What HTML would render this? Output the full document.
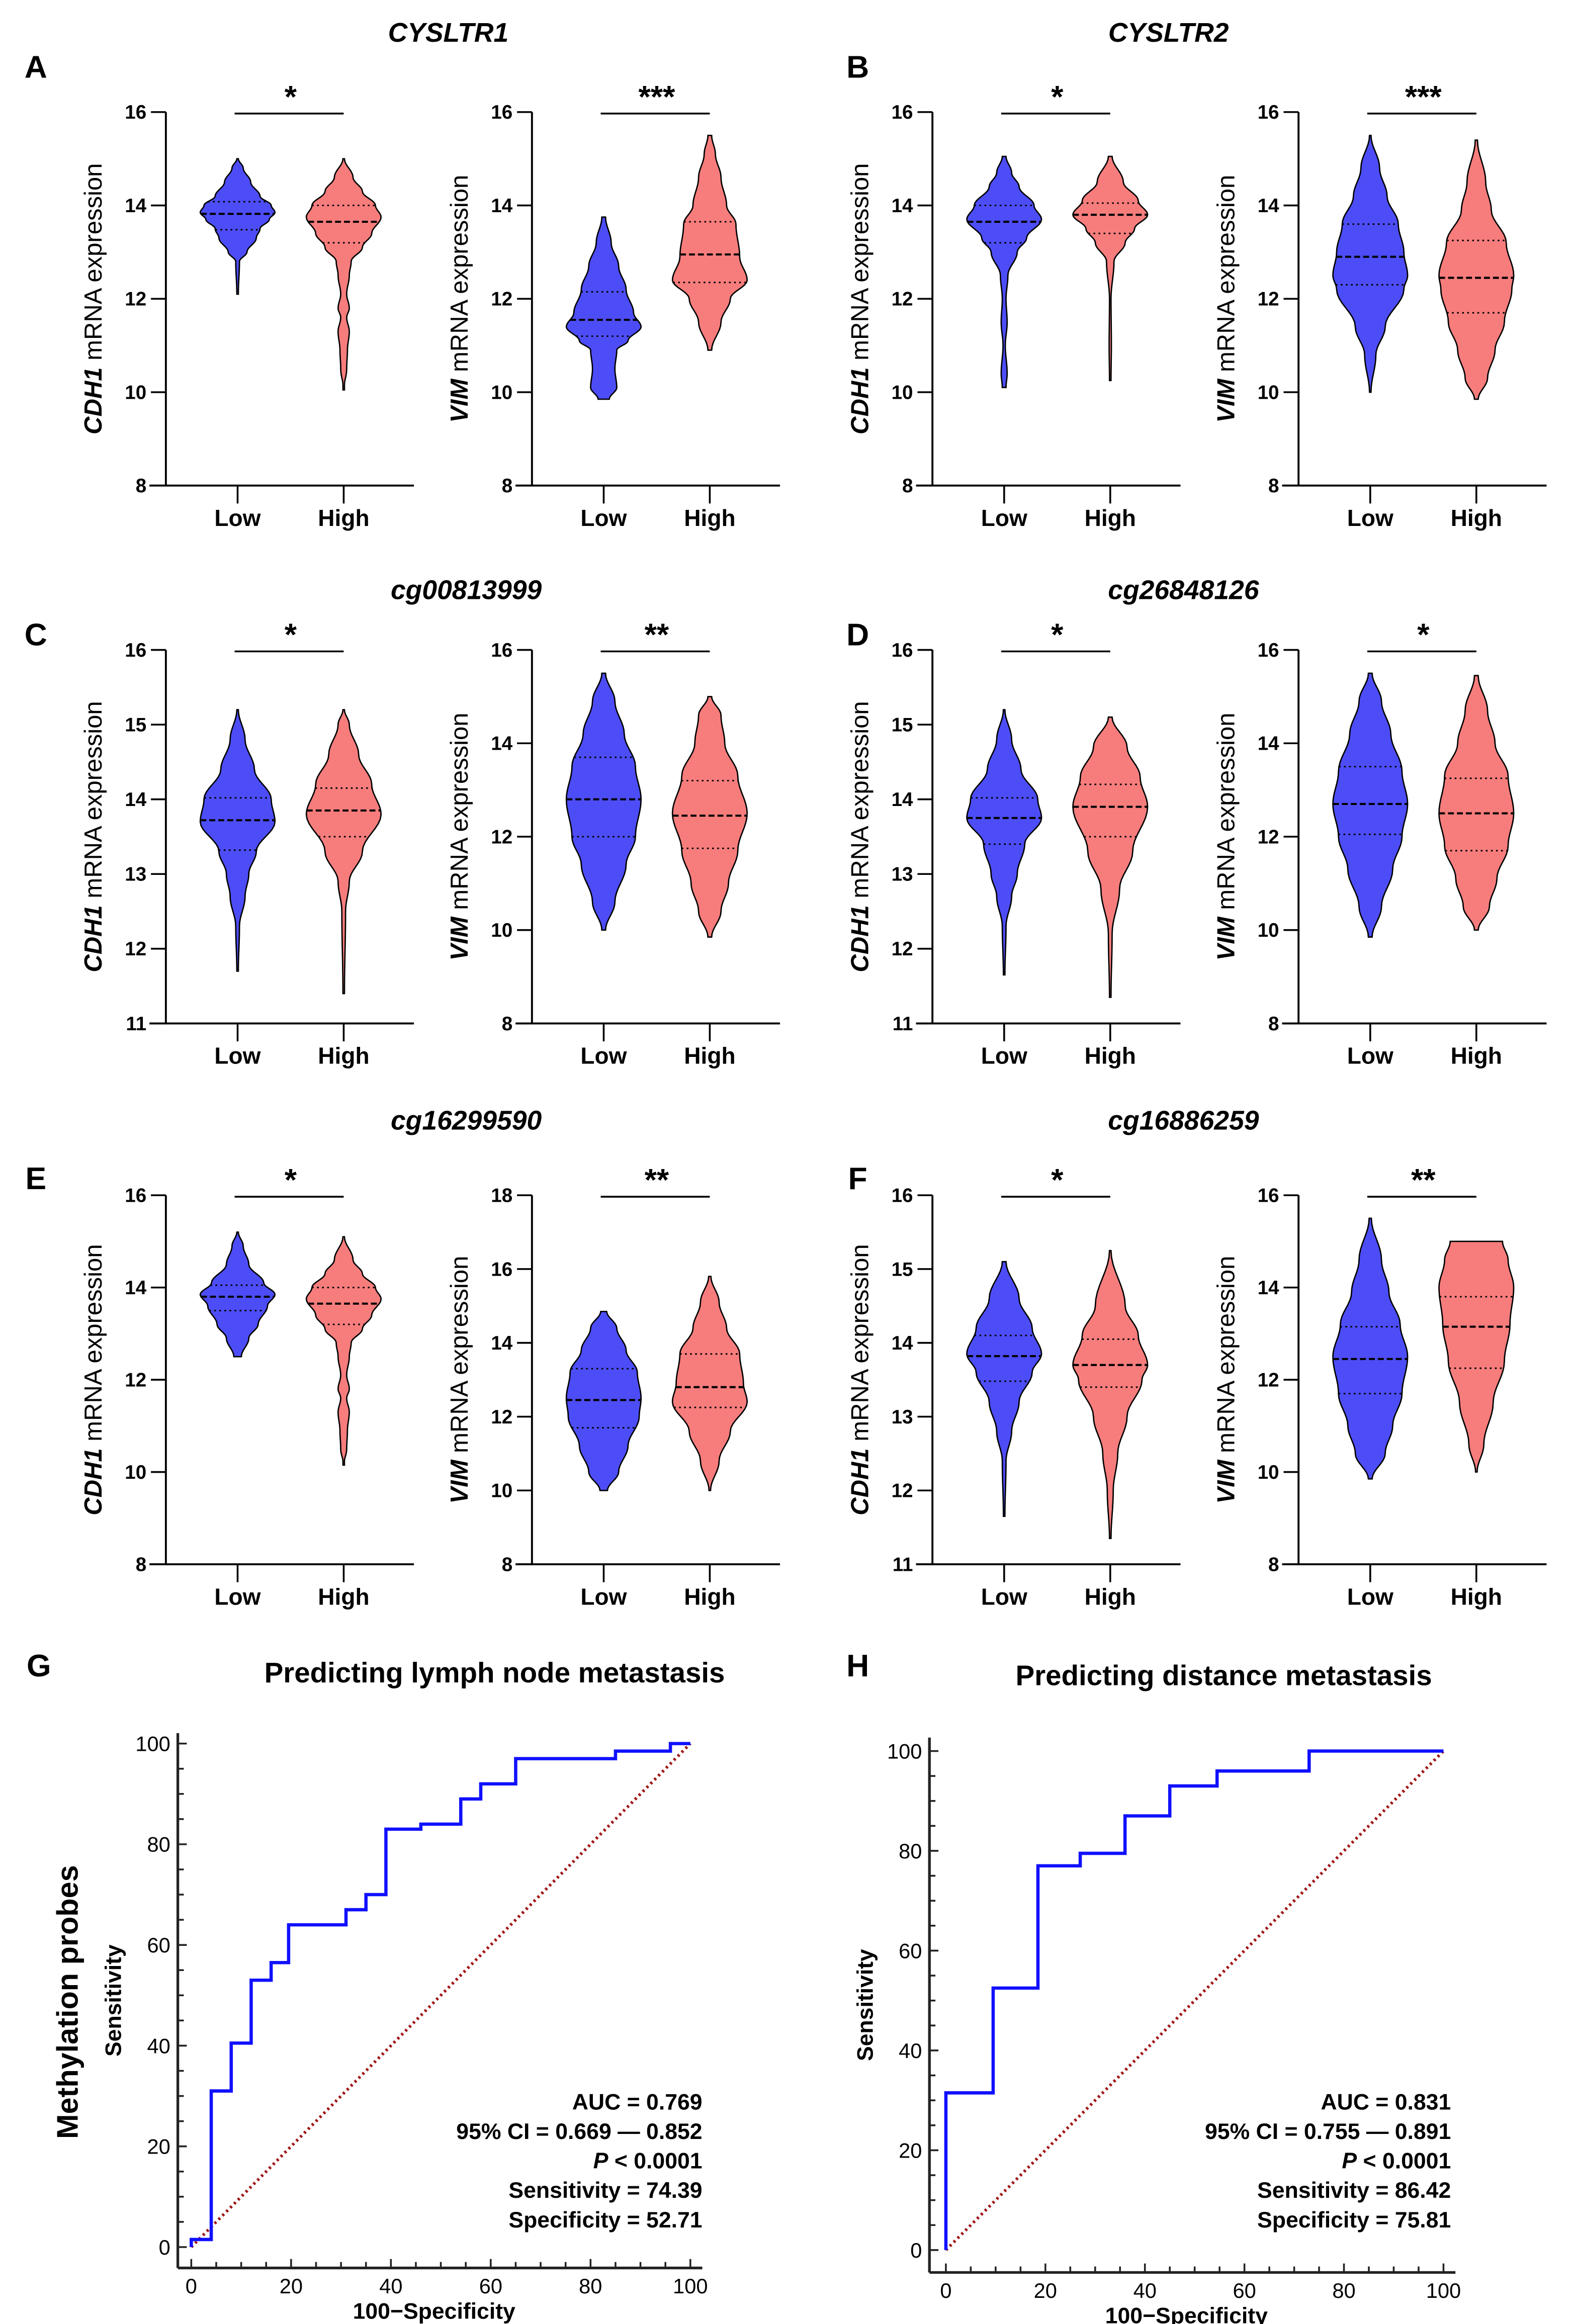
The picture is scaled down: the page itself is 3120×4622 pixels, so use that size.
<!DOCTYPE html>
<html><head><meta charset="utf-8">
<style>
html,body{margin:0;padding:0;background:#fff;}
svg{display:block;}
text{font-family:"Liberation Sans",Arial,sans-serif;fill:#000;}
</style></head>
<body>
<svg id="fig" width="3120" height="4622" viewBox="0 0 1050 1555.5" xmlns="http://www.w3.org/2000/svg">
<g id="root"></g>
</svg>
<script>
// ---------- Violin data (value, relative density) ----------
const groups = ["Low","High"];
const a1Low  = [[12.1,0.02],[12.8,0.05],[13.0,0.25],[13.3,0.5],[13.5,0.6],[13.7,0.85],[13.85,1.0],[14.0,0.9],[14.2,0.6],[14.5,0.35],[14.8,0.15],[15.0,0.02]];
const a1High = [[10.05,0],[10.5,0.08],[10.9,0.1],[11.3,0.15],[11.6,0.08],[11.8,0.15],[12.1,0.08],[12.5,0.15],[12.8,0.2],[13.1,0.5],[13.4,0.75],[13.75,1.0],[14.0,0.85],[14.3,0.5],[14.6,0.25],[15.0,0.02]];
const a2Low  = [[9.85,0.15],[10.1,0.35],[10.5,0.3],[10.9,0.35],[11.1,0.65],[11.4,1.0],[11.7,0.8],[12.2,0.6],[12.7,0.4],[13.2,0.2],[13.75,0.05]];
const a2High = [[10.9,0.05],[11.5,0.3],[12.0,0.55],[12.4,1.0],[12.9,0.8],[13.6,0.7],[14.0,0.45],[14.6,0.3],[15.1,0.15],[15.5,0.05]];
const b1Low  = [[10.1,0.05],[10.4,0.08],[11.0,0.03],[11.5,0.08],[12.0,0.05],[12.5,0.1],[13.0,0.35],[13.3,0.6],[13.7,1.0],[14.0,0.8],[14.4,0.4],[14.7,0.2],[15.05,0.05]];
const b1High = [[10.25,0.02],[11.0,0.03],[12.0,0.02],[12.8,0.1],[13.2,0.4],[13.5,0.65],[13.8,1.0],[14.1,0.75],[14.5,0.35],[15.05,0.05]];
const b2Low  = [[10.0,0.02],[10.8,0.15],[11.4,0.4],[12.2,0.9],[12.5,1.0],[13.0,0.9],[13.6,0.75],[14.2,0.45],[14.8,0.25],[15.5,0.02]];
const b2High = [[9.85,0.05],[10.3,0.3],[10.9,0.5],[11.5,0.75],[12.2,0.95],[12.5,1.0],[13.2,0.8],[13.9,0.4],[14.5,0.25],[15.4,0.03]];
const c1Low  = [[11.7,0.02],[12.3,0.05],[12.7,0.2],[13.0,0.3],[13.3,0.5],[13.7,1.0],[14.0,0.9],[14.4,0.45],[14.8,0.2],[15.2,0.02]];
const c1High = [[11.4,0.02],[12.5,0.05],[12.9,0.15],[13.3,0.5],[13.8,1.0],[14.2,0.75],[14.6,0.4],[15.0,0.15],[15.2,0.02]];
const c2Low  = [[10.0,0.05],[10.6,0.3],[11.4,0.6],[12.0,0.85],[12.8,1.0],[13.5,0.85],[14.2,0.55],[14.9,0.3],[15.5,0.05]];
const c2High = [[9.85,0.05],[10.4,0.3],[11.0,0.5],[11.7,0.75],[12.5,1.0],[13.3,0.75],[14.0,0.4],[14.6,0.3],[15.0,0.05]];
const d1Low  = [[11.65,0.02],[12.3,0.05],[12.7,0.2],[13.0,0.35],[13.4,0.55],[13.75,1.0],[14.0,0.9],[14.4,0.45],[14.8,0.2],[15.2,0.02]];
const d1High = [[11.35,0.02],[12.2,0.05],[12.8,0.25],[13.3,0.6],[13.9,1.0],[14.3,0.8],[14.7,0.45],[15.1,0.05]];
const d2Low  = [[9.85,0.05],[10.5,0.3],[11.3,0.6],[12.0,0.85],[12.7,1.0],[13.4,0.85],[14.2,0.55],[14.9,0.3],[15.5,0.05]];
const d2High = [[10.0,0.05],[10.5,0.35],[11.1,0.55],[11.8,0.85],[12.5,1.0],[13.3,0.85],[14.0,0.5],[14.7,0.3],[15.45,0.05]];
const e1Low  = [[12.5,0.1],[12.9,0.3],[13.2,0.55],[13.6,0.8],[13.85,1.0],[14.1,0.7],[14.5,0.3],[14.9,0.15],[15.2,0.02]];
const e1High = [[10.15,0],[10.5,0.08],[10.9,0.1],[11.3,0.15],[11.6,0.08],[11.8,0.15],[12.1,0.08],[12.5,0.15],[12.8,0.2],[13.1,0.5],[13.4,0.75],[13.75,1.0],[14.0,0.85],[14.3,0.5],[14.6,0.25],[15.1,0.02]];
const e2Low  = [[10.0,0.1],[10.5,0.4],[11.2,0.65],[12.0,0.95],[12.5,1.0],[13.2,0.9],[13.8,0.6],[14.4,0.35],[14.85,0.08]];
const e2High = [[10.0,0.02],[10.8,0.25],[11.6,0.55],[12.4,1.0],[12.9,0.9],[13.7,0.8],[14.4,0.45],[15.1,0.25],[15.8,0.03]];
const f1Low  = [[11.65,0.02],[12.4,0.05],[12.8,0.2],[13.2,0.4],[13.6,0.75],[13.85,1.0],[14.2,0.75],[14.6,0.4],[15.1,0.05]];
const f1High = [[11.35,0.02],[12.0,0.08],[12.5,0.2],[13.0,0.45],[13.5,0.85],[13.7,1.0],[14.1,0.75],[14.5,0.4],[15.25,0.02]];
const f2Low  = [[9.85,0.05],[10.4,0.4],[11.0,0.6],[11.7,0.85],[12.5,1.0],[13.2,0.8],[13.9,0.5],[14.6,0.3],[15.5,0.03]];
const f2High = [[10.0,0.02],[10.6,0.2],[11.5,0.45],[12.4,0.75],[13.2,0.9],[14.0,1.0],[14.6,0.85],[15.0,0.7]];
// quartiles [q1, median, q3] per violin
const quartiles = {
 a1Low:[13.48,13.82,14.08], a1High:[13.2,13.65,14.0],
 a2Low:[11.2,11.55,12.15],  a2High:[12.35,12.95,13.65],
 b1Low:[13.2,13.65,14.0],   b1High:[13.4,13.8,14.05],
 b2Low:[12.3,12.9,13.6],    b2High:[11.7,12.45,13.25],
 c1Low:[13.32,13.72,14.02], c1High:[13.5,13.85,14.15],
 c2Low:[12.0,12.8,13.7],    c2High:[11.75,12.45,13.2],
 d1Low:[13.4,13.75,14.02],  d1High:[13.5,13.9,14.2],
 d2Low:[12.05,12.7,13.5],   d2High:[11.7,12.5,13.25],
 e1Low:[13.5,13.8,14.05],   e1High:[13.2,13.65,14.0],
 e2Low:[11.7,12.45,13.3],   e2High:[12.25,12.8,13.7],
 f1Low:[13.48,13.82,14.1],  f1High:[13.4,13.7,14.05],
 f2Low:[11.7,12.45,13.15],  f2High:[12.25,13.15,13.8]
};
const stars = {a1:"*",a2:"***",b1:"*",b2:"***",c1:"*",c2:"**",d1:"*",d2:"*",e1:"*",e2:"**",f1:"*",f2:"**"};
const yRanges = {a1:[8,16,2],a2:[8,16,2],b1:[8,16,2],b2:[8,16,2],c1:[11,16,1],c2:[8,16,2],d1:[11,16,1],d2:[8,16,2],e1:[8,16,2],e2:[8,18,2],f1:[11,16,1],f2:[8,16,2]};
const genes = {a1:"CDH1",a2:"VIM",b1:"CDH1",b2:"VIM",c1:"CDH1",c2:"VIM",d1:"CDH1",d2:"VIM",e1:"CDH1",e2:"VIM",f1:"CDH1",f2:"VIM"};
const profiles = {a1Low,a1High,a2Low,a2High,b1Low,b1High,b2Low,b2High,c1Low,c1High,c2Low,c2High,d1Low,d1High,d2Low,d2High,e1Low,e1High,e2Low,e2High,f1Low,f1High,f2Low,f2High};

// ---------- ROC data ----------
const rocGx = [0,0,4,4,8,8,12,12,16,16,19.5,19.5,31,31,35,35,39,39,46,46,54,54,58,58,65,65,85,85,96,96,100];
const rocGy = [0,1.5,1.5,31,31,40.5,40.5,53,53,56.5,56.5,64,64,67,67,70,70,83,83,84,84,89,89,92,92,97,97,98.5,98.5,100,100];
const rocHx = [0,0,9.5,9.5,18.5,18.5,27,27,36,36,45,45,54.5,54.5,73,73,100];
const rocHy = [0,31.5,31.5,52.5,52.5,77,77,79.5,79.5,87,87,93,93,96,96,100,100];
const rocTicks = [0,20,40,60,80,100];
const statsG = [["AUC","= 0.769"],["95% CI","= 0.669 — 0.852"],["P","< 0.0001"],["Sensitivity ","= 74.39"],["Specificity ","= 52.71"]];
const statsH = [["AUC","= 0.831"],["95% CI","= 0.755 — 0.891"],["P","< 0.0001"],["Sensitivity ","= 86.42"],["Specificity ","= 75.81"]];

// ---------- helpers ----------
const NS="http://www.w3.org/2000/svg";
const root=document.getElementById('root');
function mk(tag,attrs,parent,txt){const e=document.createElementNS(NS,tag);for(const k in attrs)e.setAttribute(k,attrs[k]);if(txt!==undefined)e.textContent=txt;(parent||root).appendChild(e);return e;}
function txt(x,y,s,size,opts,parent){opts=opts||{};const a={x:x,y:y,'font-size':size,'text-anchor':opts.anchor||'middle'};if(opts.bold)a['font-weight']='bold';if(opts.italic)a['font-style']='italic';if(opts.transform)a.transform=opts.transform;return mk('text',a,parent,s);}

// panel titles and letters
const titles=[["CYSLTR1",300,28],["CYSLTR2",782,28],["cg00813999",312,401],["cg26848126",792,401],["cg16299590",312,756],["cg16886259",792,756]];
titles.forEach(t=>{const e=txt(t[1],t[2],t[0],18,{bold:true,italic:true});

});
const letters=[["A",24,52],["B",574,52],["C",24,432],["D",574,432],["E",24,796],["F",574,796],["G",26,1122],["H",574,1122]];
letters.forEach(l=>{const e=txt(l[1],l[2],l[0],21,{bold:true});

});

// violin subplots layout
const rows={a:[75,325],b:[75,325],c:[435,685],d:[435,685],e:[800,1047],f:[800,1047]};
const colX={a:[111,356],b:[624,869],c:[111,356],d:[624,869],e:[111,356],f:[624,869]};
const colors={Low:"#4d4df7",High:"#f77d7d"};
const HW=25;

function drawViolin(id,idx){
  const key=id[0], k=id;
  const [yT,yB]=rows[key]; const ax=colX[key][idx-1];
  const [ymin,ymax,step]=yRanges[k];
  const sy=v=>yB-(v-ymin)/(ymax-ymin)*(yB-yT);
  const g=mk('g',{});
  
  
  const yax=mk('line',{x1:ax,y1:yT,x2:ax,y2:yB,stroke:'#000','stroke-width':1.3},g);
  
  
  const xax=mk('line',{x1:ax-11,y1:yB,x2:ax+166,y2:yB,stroke:'#000','stroke-width':1.3},g);
  
  
  for(let v=ymin;v<=ymax+1e-9;v+=step){
    mk('line',{x1:ax-10,y1:sy(v),x2:ax,y2:sy(v),stroke:'#000','stroke-width':1.2},g);
    const t=txt(ax-13,sy(v)+4.5,String(v),13,{bold:true,anchor:'end'},g);
    
    
  }
  const cx={Low:ax+48,High:ax+119};
  groups.forEach(gr=>{
    mk('line',{x1:cx[gr],y1:yB,x2:cx[gr],y2:yB+12,stroke:'#000','stroke-width':1.2},g);
    const t=txt(cx[gr],yB+27,gr,15.5,{bold:true},g);
    
    
    const prof=profiles[k+gr];
    const pts=[];
    for(let i=0;i<prof.length-1;i++){
      const [v0,w0]=prof[i],[v1,w1]=prof[i+1];
      for(let s=0;s<8;s++){const f=s/8;const e=(1-Math.cos(Math.PI*f))/2;pts.push([v0+(v1-v0)*f,w0+(w1-w0)*e]);}
    }
    pts.push(prof[prof.length-1]);
    let d='M'+pts.map(p=>(cx[gr]+Math.max(p[1],0.02)*HW).toFixed(2)+','+sy(p[0]).toFixed(2)).join(' L');
    d+=' L'+pts.slice().reverse().map(p=>(cx[gr]-Math.max(p[1],0.02)*HW).toFixed(2)+','+sy(p[0]).toFixed(2)).join(' L')+'Z';
    const vp=mk('path',{d:d,fill:colors[gr],stroke:'#000','stroke-width':0.9},g);
    
    
    const wAt=v=>{for(let i=0;i<pts.length-1;i++){if(v>=pts[i][0]&&v<=pts[i+1][0]){const f=(v-pts[i][0])/(pts[i+1][0]-pts[i][0]);return pts[i][1]+(pts[i+1][1]-pts[i][1])*f;}}return 0;};
    const q=quartiles[k+gr];
    q.forEach((v,i)=>{const w=wAt(v)*HW;
      const ql=mk('line',{x1:cx[gr]-w,y1:sy(v),x2:cx[gr]+w,y2:sy(v),stroke:'#000','stroke-width':i===1?1.4:1,'stroke-dasharray':i===1?'4,2':'1.2,2.2'},g);
      
      });
  });
  const sl=mk('line',{x1:cx.Low-2,y1:yT+1,x2:cx.High,y2:yT+1,stroke:'#000','stroke-width':1.2},g);
  
  
  const st=txt((cx.Low+cx.High)/2,yT-3,stars[k],21,{bold:true},g);
  
  
  const ty=(yT+yB)/2, tx=ax-43;
  const yt=mk('text',{x:tx,y:ty,'font-size':16.5,'text-anchor':'middle',transform:`rotate(-90 ${tx} ${ty})`},g);
  
  
  mk('tspan',{'font-style':'italic','font-weight':'bold'},yt,genes[k]);
  mk('tspan',{},yt,' mRNA expression');
}
['a','b','c','d','e','f'].forEach(r=>{drawViolin(r+'1',1);drawViolin(r+'2',2);});

// ROC panels
function drawRoc(name,xs,ys,cfg,stats){
  const g=mk('g',{});
  
  
  const sx=v=>cfg.x0+v/100*(cfg.x100-cfg.x0);
  const sy=v=>cfg.y0+v/100*(cfg.y100-cfg.y0);
  const t=txt(cfg.titleX,cfg.titleY,cfg.title,19,{bold:true},g);
  
  
  const ya=mk('line',{x1:cfg.ax,y1:cfg.top,x2:cfg.ax,y2:cfg.axY,stroke:'#222','stroke-width':1.8},g);
  
  
  const xa=mk('line',{x1:cfg.ax,y1:cfg.axY,x2:cfg.x100+8,y2:cfg.axY,stroke:'#222','stroke-width':1.8},g);
  
  
  for(let v=0;v<=100;v+=5){
    const maj=v%20===0;
    mk('line',{x1:cfg.ax,y1:sy(v),x2:cfg.ax+(maj?6:4),y2:sy(v),stroke:'#222','stroke-width':1.2},g);
    mk('line',{x1:sx(v),y1:cfg.axY,x2:sx(v),y2:cfg.axY-(maj?6:4),stroke:'#222','stroke-width':1.2},g);
  }
  rocTicks.forEach(v=>{
    const a=txt(cfg.ax-5,sy(v)+5,String(v),14,{anchor:'end'},g);
    
    
    const b=txt(sx(v),cfg.axY+17,String(v),14,{},g);
    
    
  });
  const xt=txt((cfg.ax+cfg.x100)/2,cfg.axY+34,'100−Specificity',15,{bold:true},g);
  
  
  const yx=cfg.ax-38, yy=(cfg.top+cfg.axY)/2;
  const yt=txt(yx,yy,'Sensitivity',15,{bold:true,transform:`rotate(-90 ${yx} ${yy})`},g);
  
  
  const diag=mk('line',{x1:sx(0),y1:sy(0),x2:sx(100),y2:sy(100),stroke:'#a01818','stroke-width':2,'stroke-dasharray':'1.5,2.2'},g);
  
  
  const d='M'+xs.map((x,i)=>sx(x).toFixed(2)+','+sy(ys[i]).toFixed(2)).join(' L');
  const c=mk('path',{d:d,fill:'none',stroke:'#1010ff','stroke-width':2.2},g);
  
  
  stats.forEach((s,i)=>{
    const e=mk('text',{x:cfg.statX,y:cfg.statY+i*19.7,'font-size':15,'font-weight':'bold','text-anchor':'end'},g);
    
    
    mk('tspan',{'font-style':s[0]==='P'?'italic':'normal'},e,s[0]);
    mk('tspan',{},e,' '+s[1]);
  });
}
drawRoc('lymph-node',rocGx,rocGy,{x0:128,x100:462,y0:1504,y100:1167,ax:119,axY:1518,top:1160,title:'Predicting lymph node metastasis',titleX:331,titleY:1126,statX:470,statY:1412},statsG);
drawRoc('distance',rocHx,rocHy,{x0:633,x100:966,y0:1506,y100:1172,ax:622,axY:1521,top:1163,title:'Predicting distance metastasis',titleX:819,titleY:1128,statX:971,statY:1412},statsH);
const mp=txt(52,1340,'Methylation probes',20,{bold:true,transform:'rotate(-90 52 1340)'});


</script>
</body></html>
